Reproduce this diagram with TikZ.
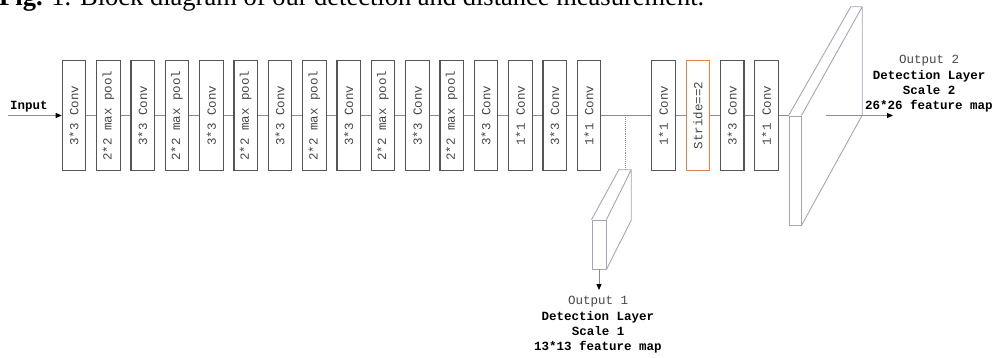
\documentclass[tikz,border=0pt]{standalone}
\usepackage{fontspec}
\setmainfont{Liberation Serif}
\setmonofont{Liberation Mono}
\usetikzlibrary{arrows.meta,positioning}
\definecolor{boxgray}{RGB}{85,85,85}
\definecolor{textgray}{RGB}{70,70,70}
\definecolor{linkgray}{RGB}{140,140,140}
\definecolor{slabgray}{RGB}{165,165,185}
\definecolor{stridered}{RGB}{225,130,70}

\begin{document}
\begin{tikzpicture}[x=1pt,y=-1pt,
    layer/.style={draw=boxgray, line width=1.1pt, rotate=90, minimum width=110pt,
        minimum height=23.5pt, inner sep=0pt, text=textgray,
        font=\ttfamily\fontsize{12.5}{15}\selectfont},
    strideb/.style={layer, draw=stridered},
    link/.style={draw=linkgray, line width=0.9pt},
    slab/.style={draw=slabgray, line width=0.9pt, inner sep=0pt},
    tip/.style={-{Triangle[color=black,length=6pt,width=5pt]}},
    outlabel/.style={align=center, font=\ttfamily\bfseries\fontsize{12.5}{15.3}\selectfont}]
    \useasboundingbox (0,0) rectangle (996,358);
    \clip (0,0) rectangle (996,358);

    % caption (cut at the top)
    \node[anchor=base west, inner sep=0pt, font=\fontsize{26.5}{30}\selectfont] (caption)
        at (-1,6) {\textbf{Fig.} 1. Block diagram of our detection and distance measurement.};

    % backbone
    \node[layer] (b1) at (74,115.5) {3*3 Conv};
    \node[layer] (b2) at (108.3,115.5) {2*2 max pool};
    \node[layer] (b3) at (142.7,115.5) {3*3 Conv};
    \node[layer] (b4) at (177,115.5) {2*2 max pool};
    \node[layer] (b5) at (211.3,115.5) {3*3 Conv};
    \node[layer] (b6) at (245.7,115.5) {2*2 max pool};
    \node[layer] (b7) at (280,115.5) {3*3 Conv};
    \node[layer] (b8) at (314.3,115.5) {2*2 max pool};
    \node[layer] (b9) at (348.7,115.5) {3*3 Conv};
    \node[layer] (b10) at (383,115.5) {2*2 max pool};
    \node[layer] (b11) at (417.3,115.5) {3*3 Conv};
    \node[layer] (b12) at (451.7,115.5) {2*2 max pool};
    \node[layer] (b13) at (486,115.5) {3*3 Conv};
    \node[layer] (b14) at (520.3,115.5) {1*1 Conv};
    \node[layer] (b15) at (554.7,115.5) {3*3 Conv};
    \node[layer] (b16) at (589,115.5) {1*1 Conv};

    % second branch
    \node[layer] (b17) at (663.5,115.5) {1*1 Conv};
    \node[strideb] (b18) at (697.8,115.5) {Stride==2};
    \node[layer] (b19) at (732.2,115.5) {3*3 Conv};
    \node[layer] (b20) at (766.5,115.5) {1*1 Conv};

    % input
    \coordinate (in) at (8,115.5);
    \node[inner sep=0pt, font=\ttfamily\bfseries\fontsize{12.5}{15}\selectfont] (inlabel) at (29,107) {Input};
    \draw[link, tip] (in) -- (b1);

    \draw[link] (b1) -- (b2) (b2) -- (b3) (b3) -- (b4) (b4) -- (b5)
        (b5) -- (b6) (b6) -- (b7) (b7) -- (b8) (b8) -- (b9) (b9) -- (b10)
        (b10) -- (b11) (b11) -- (b12) (b12) -- (b13) (b13) -- (b14)
        (b14) -- (b15) (b15) -- (b16) (b16) -- (b17) (b17) -- (b18)
        (b18) -- (b19) (b19) -- (b20);

    % output 1 (13*13)
    \coordinate (tap) at (625,115.5);
    \node[slab, minimum width=14pt, minimum height=49pt] (f1) at (599,244.5) {};
    \node[inner sep=0pt, minimum width=12pt, minimum height=50pt] (k1) at (625,195) {};
    \draw[slab] (f1.north west) -- (k1.north west) -- (k1.north east) -- (k1.south east) -- (f1.south east)
        (f1.north east) -- (k1.north east);
    \draw[linkgray, line width=0.9pt, densely dotted] (tap) -- (k1.north);
    \coordinate (out1) at (599,290);
    \draw[link, tip] (f1.south) -- (out1);
    \node[outlabel] (lab1) at (598,325) {\textmd{\color{textgray}Output 1}\\Detection Layer\\Scale 1\\13*13 feature map};

    % output 2 (26*26)
    \node[slab, minimum width=12pt, minimum height=109pt] (f2) at (795,170.5) {};
    \node[inner sep=0pt, minimum width=11pt, minimum height=108pt] (k2) at (856.5,61) {};
    \draw[slab] (f2.north west) -- (k2.north west) -- (k2.north east) -- (k2.south east) -- (f2.south east)
        (f2.north east) -- (k2.north east);
    \draw[link] (b20) -- (f2.north west);
    \coordinate (exit2) at (826,115.5);
    \coordinate (out2) at (893,115.5);
    \draw[link, tip] (exit2) -- (out2);
    \node[outlabel] (lab2) at (929,84) {\textmd{\color{textgray}Output 2}\\Detection Layer\\Scale 2\\26*26 feature map};
\end{tikzpicture}
\end{document}
